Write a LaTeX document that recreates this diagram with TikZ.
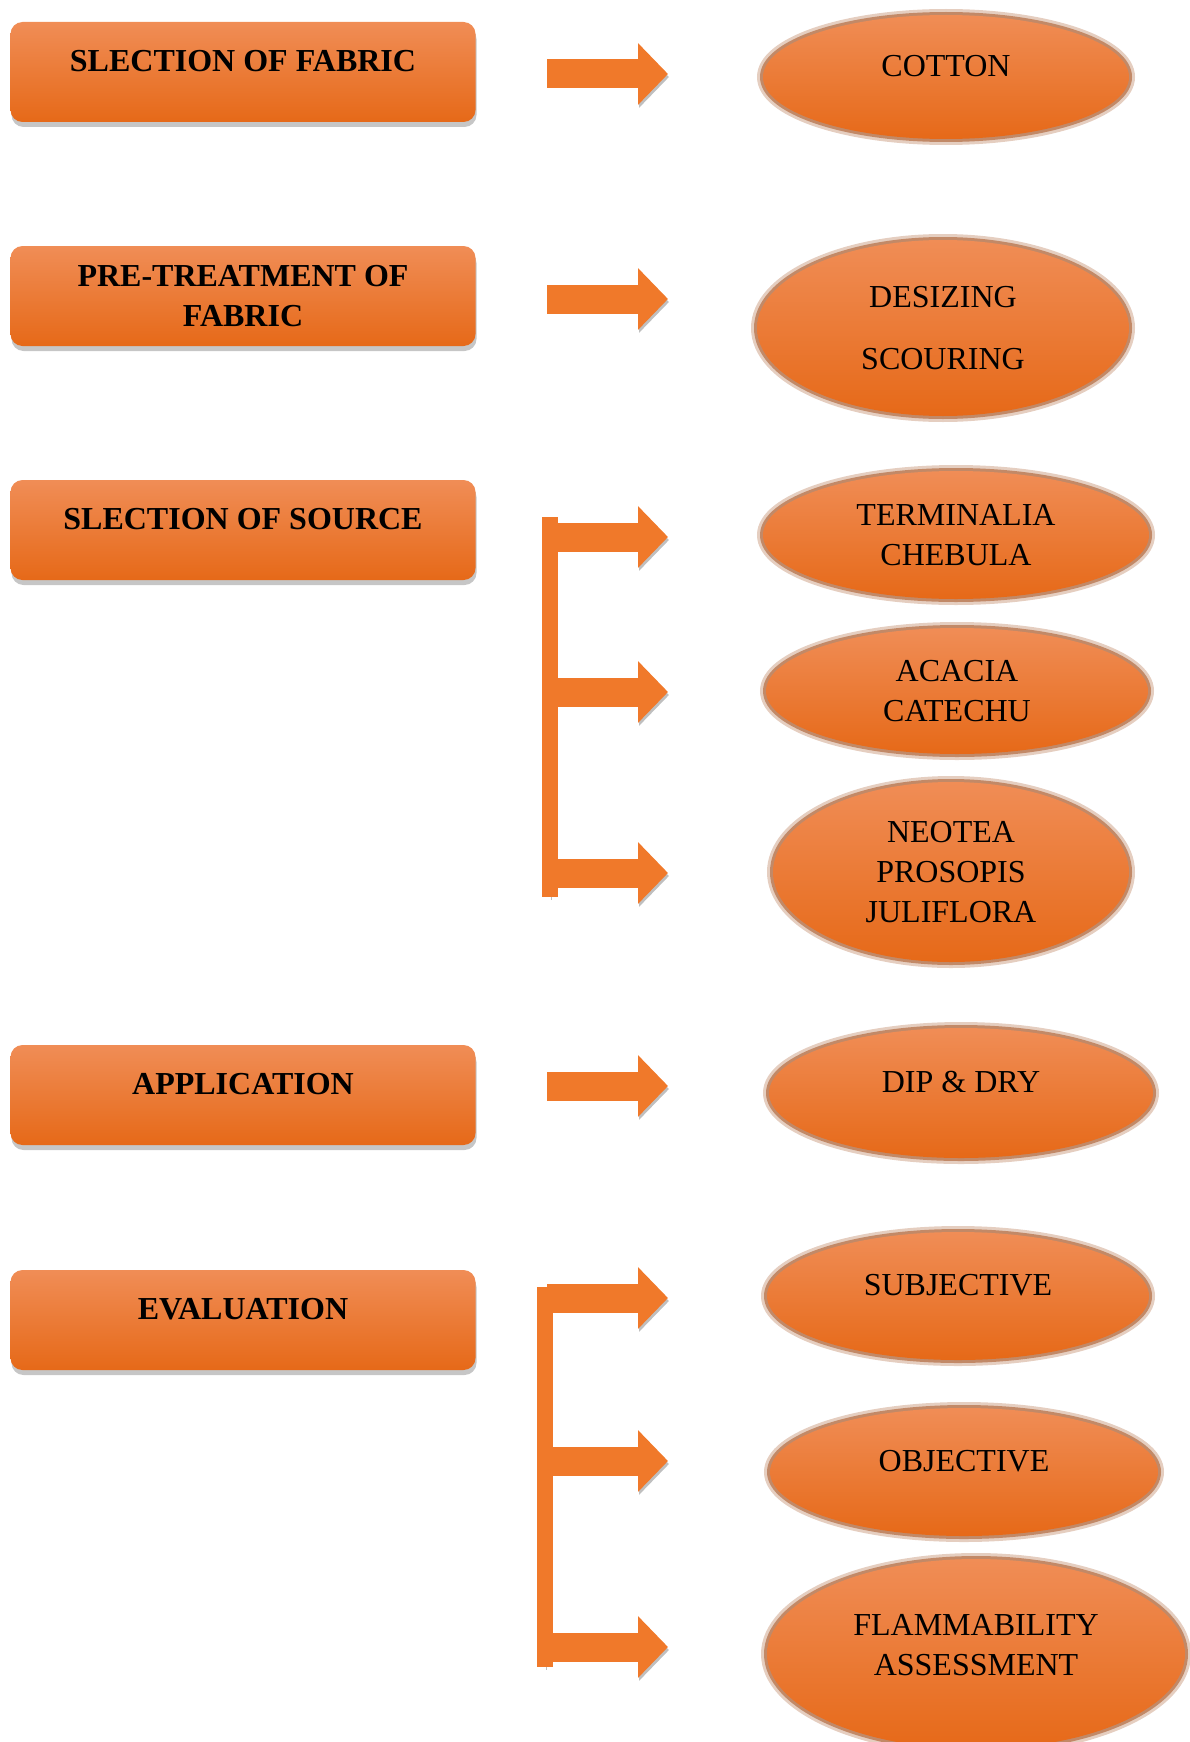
\documentclass[tikz,border=0pt]{standalone}
\usepackage{fontspec}
\setmainfont{Liberation Serif}
\usetikzlibrary{arrows.meta,shapes.geometric,shadows}
\definecolor{boxtop}{RGB}{240,141,86}
\definecolor{boxmid}{RGB}{245,128,44}
\definecolor{boxbot}{RGB}{230,105,24}
\definecolor{halo}{RGB}{170,92,45}
\definecolor{arrowc}{RGB}{240,121,42}
\tikzset{
  stage/.style={rectangle, rounded corners=12pt, minimum width=465pt, minimum height=100pt, top color=boxtop, middle color=boxmid, bottom color=boxbot, drop shadow={shadow xshift=1pt, shadow yshift=-5pt, opacity=0.45}, font=\fontsize{32}{40}\selectfont\bfseries, align=center},
  raised/.style={text depth=22pt},
  item/.style={ellipse, inner sep=0pt, top color=boxtop, middle color=boxmid, bottom color=boxbot, preaction={draw=halo, line width=12pt, opacity=0.3}, preaction={draw=halo, line width=6pt, opacity=0.6}, font=\fontsize{32}{40}\selectfont, align=center},
  bigarrow/.style={-{Triangle[length=30pt,width=60pt]}, line width=29pt, draw=arrowc, preaction={draw=black, opacity=0.25, transform canvas={xshift=1pt, yshift=-3pt}}},
  bar/.style={line width=16pt, draw=arrowc, preaction={draw=black, opacity=0.25, transform canvas={xshift=1pt, yshift=-3pt}}}
}
\begin{document}
\begin{tikzpicture}[x=1pt, y=-1pt]
  \useasboundingbox (0,0) rectangle (1190,1742);

  % left column
  \node[stage, raised] (fabric) at (243,72) {SLECTION OF FABRIC};
  \node[stage] (pretreat) at (243,296) {PRE-TREATMENT OF\\FABRIC};
  \node[stage, raised] (source) at (243,530) {SLECTION OF SOURCE};
  \node[stage, raised] (apply) at (243,1095) {APPLICATION};
  \node[stage, raised] (evaluate) at (243,1320) {EVALUATION};

  % right column
  \node[item, raised, minimum width=366pt, minimum height=124pt] (cotton) at (946,77) {COTTON};
  \node[item, minimum width=372pt, minimum height=176pt] (desize) at (943,328) {DESIZING\\[22pt]SCOURING};
  \node[item, minimum width=386pt, minimum height=128pt] (chebula) at (956,535) {TERMINALIA\\CHEBULA};
  \node[item, minimum width=382pt, minimum height=126pt] (catechu) at (957,691) {ACACIA\\CATECHU};
  \node[item, minimum width=356pt, minimum height=180pt] (juliflora) at (951,872) {NEOTEA\\PROSOPIS\\JULIFLORA};
  \node[item, raised, minimum width=384pt, minimum height=130pt] (dipdry) at (961,1093) {DIP \& DRY};
  \node[item, raised, minimum width=382pt, minimum height=128pt] (subjective) at (958,1296) {SUBJECTIVE};
  \node[item, raised, minimum width=388pt, minimum height=128pt] (objective) at (964,1472) {OBJECTIVE};
  \node[item, text depth=18pt, minimum width=418pt, minimum height=190pt] (flamm) at (976,1654) {FLAMMABILITY\\ASSESSMENT};

  % arrow ends
  \coordinate (s1) at (547,74);   \coordinate (e1) at (668,74);
  \coordinate (s2) at (547,299);  \coordinate (e2) at (668,299);
  \coordinate (s3) at (557,537);  \coordinate (e3) at (668,537);
  \coordinate (s4) at (547,692);  \coordinate (e4) at (668,692);
  \coordinate (s5) at (547,873);  \coordinate (e5) at (668,873);
  \coordinate (s6) at (547,1086); \coordinate (e6) at (668,1086);
  \coordinate (s7) at (547,1298); \coordinate (e7) at (668,1298);
  \coordinate (s8) at (547,1461); \coordinate (e8) at (668,1461);
  \coordinate (s9) at (547,1647); \coordinate (e9) at (668,1647);
  \coordinate (bt1) at (550,517);  \coordinate (bb1) at (550,897);
  \coordinate (bt2) at (545,1287); \coordinate (bb2) at (545,1667);

  \draw[bar] (bt1) -- (bb1);
  \draw[bar] (bt2) -- (bb2);

  \draw[bigarrow] (s1) -- (e1);
  \draw[bigarrow] (s2) -- (e2);
  \draw[bigarrow] (s3) -- (e3);
  \draw[bigarrow] (s4) -- (e4);
  \draw[bigarrow] (s5) -- (e5);
  \draw[bigarrow] (s6) -- (e6);
  \draw[bigarrow] (s7) -- (e7);
  \draw[bigarrow] (s8) -- (e8);
  \draw[bigarrow] (s9) -- (e9);
\end{tikzpicture}
\end{document}
